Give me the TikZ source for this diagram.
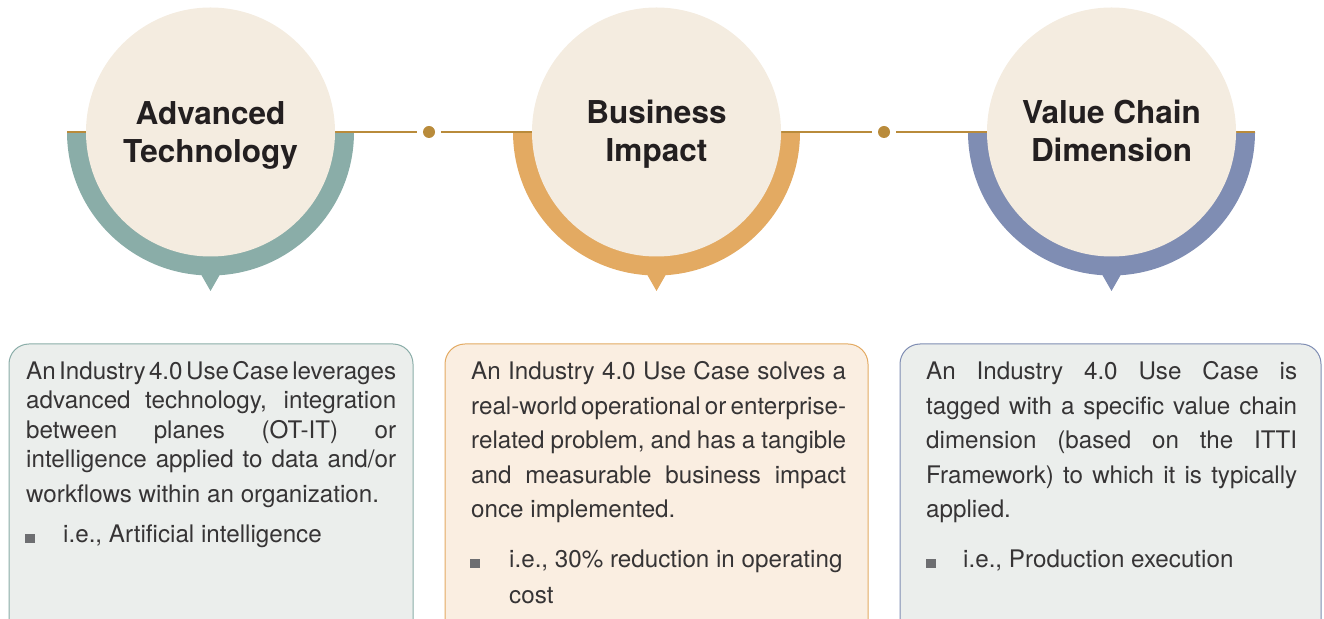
\documentclass[tikz,border=0pt]{standalone}
\usepackage{fontspec}
\newfontfamily\heros{TeX Gyre Heros}
\definecolor{ink}{HTML}{231F20}
\definecolor{bodyink}{HTML}{363435}
\definecolor{teal}{HTML}{8AADA8}
\definecolor{orng}{HTML}{E3AA62}
\definecolor{blu}{HTML}{7F8DB3}
\definecolor{beige}{HTML}{F4ECE0}
\definecolor{gold}{HTML}{B98B3B}
\definecolor{cardgrey}{HTML}{EBEEEC}
\definecolor{cardorng}{HTML}{FAEEE1}
\definecolor{bulletgrey}{HTML}{6D6E71}
\newcommand\jline[2]{\makebox[#1][s]{\spaceskip=0.25em plus 2em minus 0.15em #2}}
\begin{document}
\begin{tikzpicture}[x=1pt,y=1pt,
  titletext/.style={font=\heros\bfseries\fontsize{31.5}{38}\selectfont, text=ink, anchor=base, inner sep=0pt},
  bodytext/.style={font=\heros\fontsize{24.2}{28}\selectfont, text=bodyink, anchor=base west, inner sep=0pt},
  goldline/.style={draw=gold, line width=2pt},
  dotnode/.style={circle, fill=gold, minimum size=12pt, inner sep=0pt},
  bulletsq/.style={rectangle, fill=bulletgrey, minimum width=9.5pt, minimum height=9pt, inner sep=0pt, anchor=south west},
  card/.style={rounded corners=20pt, line width=1pt},
  disc/.style={circle, fill=beige, minimum size=249pt, inner sep=0pt}]
\useasboundingbox (0,0) rectangle (1324,618);
\clip (0,0) rectangle (1324,618);

% rings (lower half discs) and pointers
\fill[teal] (67,486) arc[start angle=180,end angle=360,radius=143.5] -- cycle;
\fill[teal] (198.5,348) -- (222.5,348) -- (210.5,327) -- cycle;
\fill[orng] (513,486) arc[start angle=180,end angle=360,radius=143.5] -- cycle;
\fill[orng] (644.5,348) -- (668.5,348) -- (656.5,327) -- cycle;
\fill[blu] (968,486) arc[start angle=180,end angle=360,radius=143.5] -- cycle;
\fill[blu] (1099.5,348) -- (1123.5,348) -- (1111.5,327) -- cycle;

% connectors
\coordinate (L0) at (67,486);
\coordinate (L3) at (1255,486);
\node[dotnode] (d1) at (429,486) {};
\node[dotnode] (d2) at (884,486) {};
\draw[goldline] (L0) -- ([xshift=-6pt]d1.west);
\draw[goldline] ([xshift=6pt]d1.east) -- ([xshift=-6pt]d2.west);
\draw[goldline] ([xshift=6pt]d2.east) -- (L3);

% circles
\node[disc] (C1) at (210.5,486) {};
\node[disc] (C2) at (656.5,486) {};
\node[disc] (C3) at (1111.5,486) {};

\node[titletext] (t1a) at (210.5,493) {Advanced};
\node[titletext] (t1b) at (210.5,455) {Technology};
\node[titletext] (t2a) at (656.5,494) {Business};
\node[titletext] (t2b) at (656.5,456) {Impact};
\node[titletext] (t3a) at (1111.5,494) {Value Chain};
\node[titletext] (t3b) at (1111.5,456) {Dimension};

% cards
\draw[card, draw=teal, fill=cardgrey] (9,274) rectangle (413,-40);
\draw[card, draw=orng, fill=cardorng] (445,274) rectangle (868,-40);
\draw[card, draw=blu, fill=cardgrey] (900,274) rectangle (1321,-40);

% card 1 text
\node[bodytext] (p1a) at (26,238) {\jline{370pt}{An Industry 4.0 Use Case leverages}};
\node[bodytext] (p1b) at (26,209) {\jline{370pt}{advanced technology, integration}};
\node[bodytext] (p1c) at (26,179) {\jline{370pt}{between planes (OT-IT) or}};
\node[bodytext] (p1d) at (26,150) {\jline{370pt}{intelligence applied to data and/or}};
\node[bodytext] (p1e) at (26,115) {workflows within an organization.};
\node[bulletsq] (b1) at (25,75) {};
\node[bodytext] (q1a) at (63,75) {i.e., Artificial intelligence};

% card 2 text
\node[bodytext] (p2a) at (471,238) {\jline{375pt}{An Industry 4.0 Use Case solves a}};
\node[bodytext] (p2b) at (471,203) {\jline{375pt}{real-world operational or enterprise-}};
\node[bodytext] (p2c) at (471,169) {\jline{375pt}{related problem, and has a tangible}};
\node[bodytext] (p2d) at (471,134) {\jline{375pt}{and measurable business impact}};
\node[bodytext] (p2e) at (471,100) {once implemented.};
\node[bulletsq] (b2) at (470,50) {};
\node[bodytext] (q2a) at (509,50) {i.e., 30\% reduction in operating};
\node[bodytext] (q2b) at (509,15) {cost};

% card 3 text
\node[bodytext] (p3a) at (926,238) {\jline{371pt}{An Industry 4.0 Use Case is}};
\node[bodytext] (p3b) at (926,203) {\jline{371pt}{tagged with a specific value chain}};
\node[bodytext] (p3c) at (926,169) {\jline{371pt}{dimension (based on the ITTI}};
\node[bodytext] (p3d) at (926,134) {\jline{371pt}{Framework) to which it is typically}};
\node[bodytext] (p3e) at (926,100) {applied.};
\node[bulletsq] (b3) at (926,50) {};
\node[bodytext] (q3a) at (963,50) {i.e., Production execution};
\end{tikzpicture}
\end{document}
